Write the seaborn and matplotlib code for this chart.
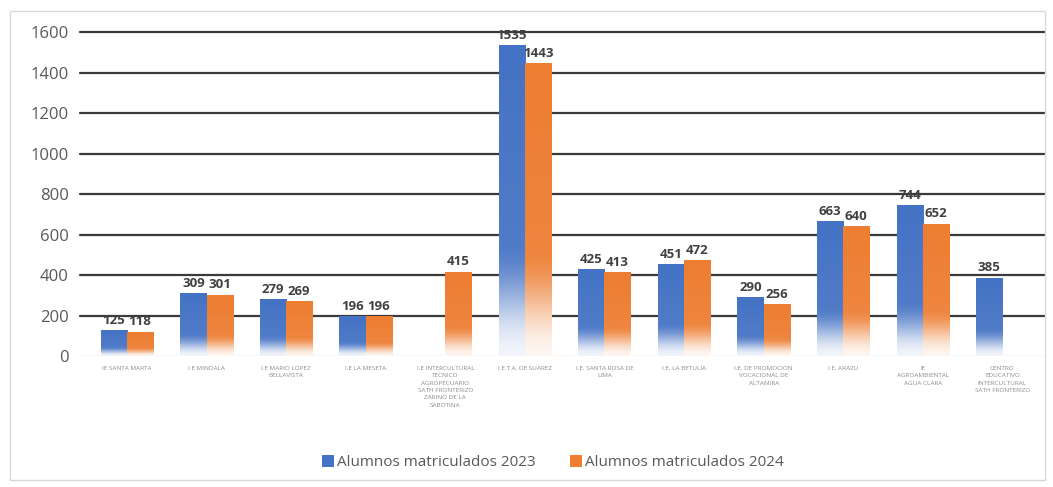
import numpy as np
import pandas as pd
import matplotlib
matplotlib.use("Agg")
import matplotlib.pyplot as plt
from matplotlib.colors import to_rgb
from matplotlib.patches import Patch, Rectangle
import seaborn as sns

categories = [
    "IE SANTA MARTA",
    "I.E MINDALA",
    "I.E MARIO LOPEZ\nBELLAVISTA",
    "I.E LA MESETA",
    "I.E INTERCULTURAL\nTECNICO\nAGROPECUARIO\nSATH FRONTERIZO\nZARINO DE LA\nSABOTINA",
    "I.E.T.A. DE SUAREZ",
    "I.E. SANTA ROSA DE\nLIMA",
    "I.E. LA BETULIA",
    "I.E. DE PROMOCION\nVOCACIONAL DE\nALTAMIRA",
    "I.E. ARAZU",
    "IE\nAGROAMBIENTAL\nAGUA CLARA",
    "CENTRO\nEDUCATIVO\nINTERCULTURAL\nSATH FRONTERIZO",
]
alumnos_2023 = [125, 309, 279, 196, np.nan, 1535, 425, 451, 290, 663, 744, 385]
alumnos_2024 = [118, 301, 269, 196, 415, 1443, 413, 472, 256, 640, 652, np.nan]
series_names = ["Alumnos matriculados 2023", "Alumnos matriculados 2024"]
y_ticks = [0, 200, 400, 600, 800, 1000, 1200, 1400, 1600]

colors = ["#4472C4", "#ED7D31"]

df = pd.DataFrame({
    "cat": categories * 2,
    "serie": [series_names[0]] * len(categories) + [series_names[1]] * len(categories),
    "valor": alumnos_2023 + alumnos_2024,
})

sns.set_theme(style="white")
plt.rcParams["font.family"] = ["Open Sans", "DejaVu Sans"]

fig = plt.figure(figsize=(10.53, 4.87), dpi=100)
ax = fig.add_axes([0.076, 0.269, 0.916, 0.665])

sns.barplot(data=df, x="cat", y="valor", hue="serie", order=categories,
            hue_order=series_names, palette=colors, saturation=1,
            errorbar=None, width=0.66, gap=0.0, ax=ax, legend=False, zorder=2)

ax.set_xlim(-0.59, 11.53)
ax.set_ylim(0, 1600)
ax.set_xlabel("")
ax.set_ylabel("")

# horizontal gridlines behind the bars
for v in y_ticks[1:]:
    ax.axhline(v, color="#3a3a3a", lw=1.6, zorder=1, clip_on=False)
ax.axhline(0, color="#d9d9d9", lw=1.0, zorder=1)

for s in ax.spines.values():
    s.set_visible(False)
ax.set_yticks(y_ticks)
ax.set_yticklabels([str(v) for v in y_ticks], fontsize=12, color="#595959")
ax.tick_params(axis="y", length=0, pad=8)
ax.set_xticks(range(len(categories)))
ax.set_xticklabels(categories, fontsize=4.6, color="#8c8c8c", linespacing=1.6,
                   va="top")
ax.tick_params(axis="x", length=0, pad=7)

# bars shaded with a soft fade toward the base, plus value labels
bars = [p for p in ax.patches if isinstance(p, Rectangle) and p.get_height() > 0]
n = 400
white = np.ones(3)
for p in bars:
    x, w, h = p.get_x(), p.get_width(), p.get_height()
    base = np.array(to_rgb(p.get_facecolor()))
    t = np.linspace(0, 1, n)  # 0 at bottom, 1 at top
    s = np.clip(t / 0.36, 0, 1)
    k = s * s * (3 - 2 * s)  # smoothstep
    mix = (0.08 + 0.92 * k) * (0.9 + 0.1 * t)
    rgb = white[None, :] * (1 - mix[:, None]) + base[None, :] * mix[:, None]
    img = rgb[:, None, :]
    ax.imshow(img, extent=[x, x + w, 0, h], origin="lower", aspect="auto",
              interpolation="bilinear", zorder=2.5)
    p.set_visible(False)
    ax.text(x + w / 2, h + 18, f"{int(round(h))}", ha="center", va="bottom",
            fontsize=9.5, fontweight="bold", color="#404040", zorder=4)

ax.set_xlim(-0.59, 11.53)
ax.set_ylim(0, 1600)

handles = [Patch(facecolor=c, edgecolor="none") for c in colors]
fig.legend(handles, series_names, loc="center", bbox_to_anchor=(0.525, 0.05),
           ncol=2, frameon=False, fontsize=11, handlelength=0.8,
           handleheight=0.8, handletextpad=0.2, columnspacing=2.2,
           labelcolor="#595959")

# outer chart frame
fig.patches.append(Rectangle((10 / 1053, 7 / 487), 1035 / 1053, 469 / 487,
                             transform=fig.transFigure, fill=False,
                             edgecolor="#d9d9d9", lw=1.0))

fig.savefig("out.png", dpi=100)
